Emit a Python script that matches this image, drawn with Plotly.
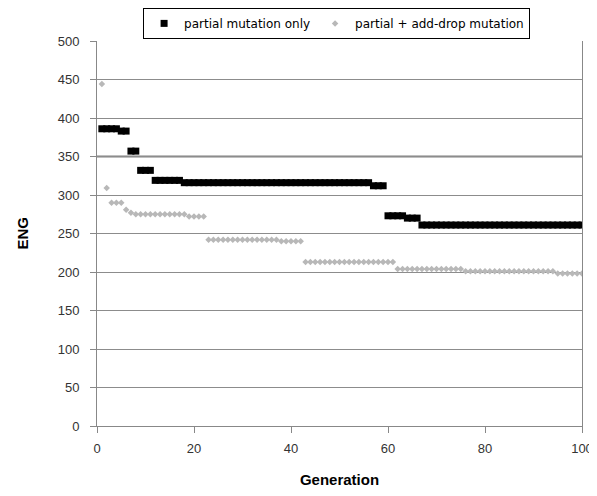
import plotly.graph_objects as go

generation = list(range(1, 101))

partial_only = [
    386, 386, 386, 386, 383, 383, 357, 357, 332, 332,
    332, 319, 319, 319, 319, 319, 319, 316, 316, 316,
    316, 316, 316, 316, 316, 316, 316, 316, 316, 316,
    316, 316, 316, 316, 316, 316, 316, 316, 316, 316,
    316, 316, 316, 316, 316, 316, 316, 316, 316, 316,
    316, 316, 316, 316, 316, 316, 312, 312, 312, 273,
    273, 273, 273, 270, 270, 270, 261, 261, 261, 261,
    261, 261, 261, 261, 261, 261, 261, 261, 261, 261,
    261, 261, 261, 261, 261, 261, 261, 261, 261, 261,
    261, 261, 261, 261, 261, 261, 261, 261, 261, 261,
]

partial_add_drop = [
    444, 309, 290, 290, 290, 281, 277, 275, 275, 275,
    275, 275, 275, 275, 275, 275, 275, 275, 272, 272,
    272, 272, 242, 242, 242, 242, 242, 242, 242, 242,
    242, 242, 242, 242, 242, 242, 242, 240, 240, 240,
    240, 240, 213, 213, 213, 213, 213, 213, 213, 213,
    213, 213, 213, 213, 213, 213, 213, 213, 213, 213,
    213, 204, 204, 204, 204, 204, 204, 204, 204, 204,
    204, 204, 204, 204, 204, 201, 201, 201, 201, 201,
    201, 201, 201, 201, 201, 201, 201, 201, 201, 201,
    201, 201, 201, 201, 198, 198, 198, 198, 198, 198,
]

x_ticks = [0, 20, 40, 60, 80, 100]
y_ticks = [0, 50, 100, 150, 200, 250, 300, 350, 400, 450, 500]

font_family = "Liberation Sans, Arial, sans-serif"

fig = go.Figure()
fig.add_trace(go.Scatter(
    x=generation, y=partial_only, mode="markers",
    name="partial mutation only",
    marker=dict(symbol="square", size=7, color="black", line=dict(width=0)),
))
fig.add_trace(go.Scatter(
    x=generation, y=partial_add_drop, mode="markers",
    name="partial + add-drop mutation",
    marker=dict(symbol="diamond", size=5, color="#b8b8b8", line=dict(width=0)),
))

fig.add_shape(type="line", xref="x", yref="y", x0=0, x1=100, y0=350, y1=350,
              line=dict(color="black", width=1.5), layer="below")

# page body has an 8px margin, so the figure is shifted by 8px
L, R, T, B = 89, 15, 33, 62
fig.update_layout(
    width=589, height=480,
    margin=dict(l=L, r=R, t=T, b=B, autoexpand=False),
    plot_bgcolor="white", paper_bgcolor="white",
    font=dict(family=font_family, color="#333333"),
    showlegend=True,
    legend=dict(
        orientation="h", x=0.494, xanchor="center", y=1.086, yanchor="top",
        font=dict(size=12, color="black", family="DejaVu Sans, Verdana, sans-serif"),
        bordercolor="black", borderwidth=1, bgcolor="white",
        itemsizing="trace", tracegroupgap=0, itemwidth=30,
    ),
)

plot_w = 589 - L - R
fig.add_annotation(
    text="<b>ENG</b>", xref="paper", yref="paper",
    x=(14 - L) / plot_w, y=0.5, xanchor="center", yanchor="middle",
    textangle=-90, showarrow=False, font=dict(size=15, color="black"),
)

fig.update_xaxes(
    range=[0, 100], tickvals=x_ticks, showgrid=False, zeroline=False,
    showline=True, linecolor="#888888", linewidth=1,
    ticks="outside", ticklen=6, tickcolor="#888888", ticklabelstandoff=4,
    ticklabeloverflow="allow",
    tickfont=dict(size=13, color="#333333"),
    title=dict(text="<b>Generation</b>", font=dict(size=15, color="black"), standoff=20),
)
fig.update_yaxes(
    range=[0, 500], tickvals=y_ticks, showgrid=True, gridcolor="#8c8c8c", gridwidth=1,
    zeroline=False, showline=True, linecolor="#888888", linewidth=1, mirror=True,
    ticks="outside", ticklen=6, tickcolor="#888888", ticklabelstandoff=8,
    tickfont=dict(size=13, color="#333333"),
)

fig.write_html("out.html")
